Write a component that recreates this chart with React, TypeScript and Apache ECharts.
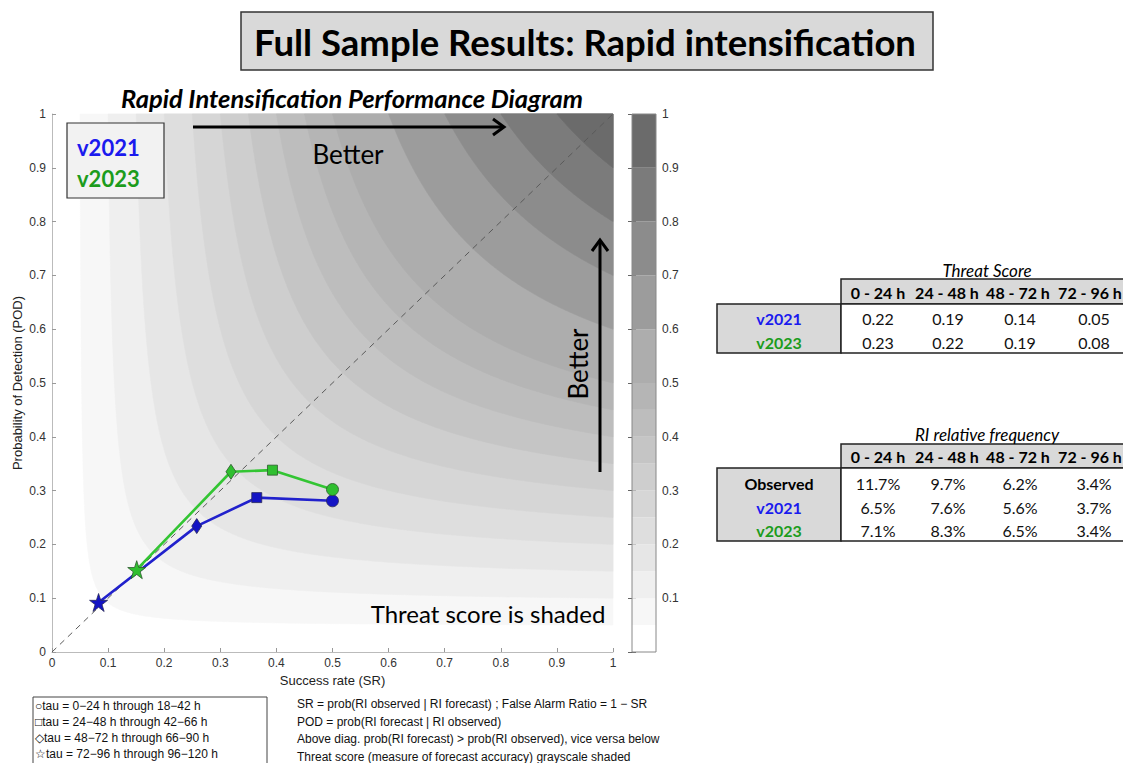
import React, { useEffect, useRef } from "react";
import * as echarts from "echarts";

// Threat-score shading levels (lower bound of each band)
const shadeLevels = [0, 0.05, 0.1, 0.15, 0.2, 0.25, 0.3, 0.35, 0.4, 0.45, 0.5, 0.6, 0.7, 0.8, 0.9];

// Performance points: success rate (SR) and probability of detection (POD)
// order: 0-24 h, 24-48 h, 48-72 h, 72-96 h lead windows
const srV2021 = [0.5, 0.365, 0.258, 0.083];
const podV2021 = [0.281, 0.287, 0.234, 0.092];
const srV2023 = [0.5, 0.393, 0.319, 0.151];
const podV2023 = [0.302, 0.338, 0.335, 0.153];

// Axis ticks
const axisTicks = [0, 0.1, 0.2, 0.3, 0.4, 0.5, 0.6, 0.7, 0.8, 0.9, 1];

// Tables
const leadCols = ["0 - 24 h", "24 - 48 h", "48 - 72 h", "72 - 96 h"];
const tsV2021 = [0.22, 0.19, 0.14, 0.05];
const tsV2023 = [0.23, 0.22, 0.19, 0.08];
const freqObserved = [11.7, 9.7, 6.2, 3.4];
const freqV2021 = [6.5, 7.6, 5.6, 3.7];
const freqV2023 = [7.1, 8.3, 6.5, 3.4];

const tauLegend = [
  "\u25CBtau = 0\u221224 h through 18\u221242 h",
  "\u25A1tau = 24\u221248 h through 42\u221266 h",
  "\u25C7tau = 48\u221272 h through 66\u221290 h",
  "\u2606tau = 72\u221296 h through 96\u2212120 h",
];
const notes = [
  "SR = prob(RI observed | RI forecast) ; False Alarm Ratio = 1 \u2212 SR",
  "POD = prob(RI forecast | RI observed)",
  "Above diag. prob(RI forecast) > prob(RI observed), vice versa below",
  "Threat score (measure of forecast accuracy) grayscale shaded",
];

const BLUE = "#1a1aee";
const GREEN = "#1c9c1c";
const CAL = "Lato, 'Open Sans', sans-serif";
const ARIAL = "'Liberation Sans', Arial, sans-serif";

const shade = (lo: number) => {
  const g = Math.round(255 - 165 * lo);
  return `rgb(${g},${g},${g})`;
};

// Curve of constant threat score c: 1/SR + 1/POD - 1 = 1/c, from (c,1) to (1,c)
function thresholdCurve(c: number): number[][] {
  const s = (2 * c) / (1 + c);
  const n = 160;
  const half: number[][] = [];
  for (let i = 0; i <= n; i++) {
    const w = 1 + ((1 / s - 1) * i) / n;
    half.push([1 / (1 / c + 1 - w), 1 / w]);
  }
  const mirrored = half.slice(0, -1).reverse().map(([a, b]) => [b, a]);
  return half.concat(mirrored);
}

const starPath =
  "path://M50,0 L61.8,35.1 L98.9,35.1 L68.9,57 L80.3,92.4 L50,70.6 L19.7,92.4 L31.1,57 L1.1,35.1 L38.2,35.1 Z";
const markerSymbols = ["circle", "rect", "diamond", starPath];
const markerSizes: any[] = [12, 10, [10, 15], 18];

function pointData(sr: number[], pod: number[]) {
  return sr.map((x, i) => ({
    value: [x, pod[i]],
    symbol: markerSymbols[i],
    symbolSize: markerSizes[i],
  }));
}

function txt(x: number, y: number, text: string, font: string, fill = "#000", align = "center", extra: any = {}) {
  return {
    type: "text",
    x,
    y,
    z: 100,
    silent: true,
    style: { text, font, fill, align, verticalAlign: "middle", textAlign: align, textVerticalAlign: "middle" },
    ...extra,
  };
}

function rect(x: number, y: number, w: number, h: number, fill: string, stroke: string, lineWidth = 1.5) {
  return { type: "rect", z: 90, silent: true, shape: { x, y, width: w, height: h }, style: { fill, stroke, lineWidth } };
}

function buildGraphics() {
  const g: any[] = [];
  // headline box
  g.push(rect(241, 12, 692, 58, "#d9d9d9", "#333", 1.5));
  g.push(txt(585, 42, "Full Sample Results: Rapid intensification", `bold 36.5px ${CAL}`));
  // chart title
  g.push(txt(352, 98, "Rapid Intensification Performance Diagram", `italic bold 25.5px ${CAL}`));
  // version key
  g.push(rect(67, 123, 97, 75, "#f2f2f2", "#333", 1.2));
  g.push(txt(77, 147, "v2021", `bold 22px ${CAL}`, BLUE, "left"));
  g.push(txt(77, 178, "v2023", `bold 22px ${CAL}`, GREEN, "left"));
  // "Better" arrows
  g.push({ type: "line", z: 95, silent: true, shape: { x1: 193, y1: 127, x2: 503, y2: 127 }, style: { stroke: "#000", lineWidth: 3 } });
  g.push({ type: "polyline", z: 95, silent: true, shape: { points: [[493, 119], [504, 127], [493, 135]] }, style: { stroke: "#000", lineWidth: 3, fill: null } });
  g.push(txt(348, 154, "Better", `26px ${CAL}`));
  g.push({ type: "line", z: 95, silent: true, shape: { x1: 600, y1: 472, x2: 600, y2: 241 }, style: { stroke: "#000", lineWidth: 3 } });
  g.push({ type: "polyline", z: 95, silent: true, shape: { points: [[592, 251], [600, 240], [608, 251]] }, style: { stroke: "#000", lineWidth: 3, fill: null } });
  g.push(txt(578, 364, "Better", `26px ${CAL}`, "#000", "center", { rotation: Math.PI / 2 }));
  g.push(txt(488, 613, "Threat score is shaded", `24px ${CAL}`));
  // colour bar frame
  g.push({ type: "rect", z: 60, silent: true, shape: { x: 632, y: 114, width: 24, height: 538 }, style: { fill: null, stroke: "#888", lineWidth: 1 } });

  // Threat score table
  const colX = [878, 948, 1020, 1094];
  const headX = [878, 947, 1018, 1090];
  g.push(txt(987, 270, "Threat Score", `italic 17px ${CAL}`));
  g.push(rect(841, 279, 300, 25, "#d9d9d9", "#222"));
  g.push(rect(717, 304, 124, 49, "#d9d9d9", "#222"));
  g.push(rect(841, 304, 300, 49, "#ffffff", "#222"));
  leadCols.forEach((c, i) => g.push(txt(headX[i], 292, c, `bold 16px ${CAL}`)));
  g.push(txt(779, 318, "v2021", `bold 16px ${CAL}`, BLUE));
  g.push(txt(779, 342, "v2023", `bold 16px ${CAL}`, GREEN));
  tsV2021.forEach((v, i) => g.push(txt(colX[i], 318, v.toFixed(2), `16px ${CAL}`, "#111")));
  tsV2023.forEach((v, i) => g.push(txt(colX[i], 342, v.toFixed(2), `16px ${CAL}`, "#111")));

  // RI relative frequency table
  g.push(txt(987, 434, "RI relative frequency", `italic 17px ${CAL}`));
  g.push(rect(841, 444, 300, 24, "#d9d9d9", "#222"));
  g.push(rect(717, 468, 124, 73, "#d9d9d9", "#222"));
  g.push(rect(841, 468, 300, 73, "#ffffff", "#222"));
  leadCols.forEach((c, i) => g.push(txt(headX[i], 456, c, `bold 16px ${CAL}`)));
  g.push(txt(779, 483, "Observed", `bold 16px ${CAL}`, "#000"));
  g.push(txt(779, 507, "v2021", `bold 16px ${CAL}`, BLUE));
  g.push(txt(779, 530, "v2023", `bold 16px ${CAL}`, GREEN));
  freqObserved.forEach((v, i) => g.push(txt(colX[i], 483, v.toFixed(1) + "%", `16px ${CAL}`, "#111")));
  freqV2021.forEach((v, i) => g.push(txt(colX[i], 507, v.toFixed(1) + "%", `16px ${CAL}`, "#111")));
  freqV2023.forEach((v, i) => g.push(txt(colX[i], 530, v.toFixed(1) + "%", `16px ${CAL}`, "#111")));

  // lead-time marker key and notes
  g.push(rect(33, 697, 234, 72, "#ffffff", "#444", 1));
  tauLegend.forEach((t, i) => g.push(txt(35, 706 + i * 16, t, `12px ${ARIAL}`, "#111", "left")));
  notes.forEach((t, i) => g.push(txt(297, 704 + i * 17.5, t, `12px ${ARIAL}`, "#111", "left")));
  return g;
}

export default function App() {
  const ref = useRef<HTMLDivElement>(null);
  useEffect(() => {
    if (!ref.current) return;
    const chart = echarts.init(ref.current, undefined, { renderer: "svg" });
    const bands = shadeLevels.map((lo, i) => [lo, i + 1 < shadeLevels.length ? shadeLevels[i + 1] : 1]);
    const option: any = {
      animation: false,
      backgroundColor: "#ffffff",
      grid: [
        { left: 52, top: 114, width: 561, height: 538 },
        { left: 632, top: 114, width: 24, height: 538 },
      ],
      xAxis: [
        {
          gridIndex: 0,
          type: "value",
          min: axisTicks[0],
          max: axisTicks[axisTicks.length - 1],
          interval: 0.1,
          name: "Success rate (SR)",
          nameLocation: "middle",
          nameGap: 19,
          nameTextStyle: { fontFamily: ARIAL, fontSize: 13, color: "#222" },
          axisLine: { lineStyle: { color: "#bbb" } },
          axisTick: { inside: true, length: 4, lineStyle: { color: "#999" } },
          axisLabel: { fontFamily: ARIAL, fontSize: 12, color: "#333", margin: 5 },
          splitLine: { show: false },
        },
        { gridIndex: 1, type: "value", min: 0, max: 1, show: false },
      ],
      yAxis: [
        {
          gridIndex: 0,
          type: "value",
          min: axisTicks[0],
          max: axisTicks[axisTicks.length - 1],
          interval: 0.1,
          name: "Probability of Detection (POD)",
          nameLocation: "middle",
          nameGap: 28,
          nameTextStyle: { fontFamily: ARIAL, fontSize: 13, color: "#222" },
          axisLine: { show: true, lineStyle: { color: "#bbb" } },
          axisTick: { show: true, inside: true, length: 4, lineStyle: { color: "#999" } },
          axisLabel: { fontFamily: ARIAL, fontSize: 12, color: "#333", margin: 6 },
          splitLine: { show: false },
        },
        {
          gridIndex: 1,
          type: "value",
          position: "right",
          min: 0,
          max: 1,
          interval: 0.1,
          axisLine: { show: false },
          axisTick: { show: true, inside: true, length: 4, lineStyle: { color: "#666" } },
          axisLabel: { fontFamily: ARIAL, fontSize: 12, color: "#333", margin: 6, formatter: (v: number) => (v === 0 ? "" : String(v)) },
          splitLine: { show: false },
        },
        {
          gridIndex: 1,
          type: "value",
          position: "left",
          min: 0,
          max: 1,
          interval: 0.1,
          axisLine: { show: false },
          axisTick: { show: true, inside: true, length: 4, lineStyle: { color: "#666" } },
          axisLabel: { show: false },
          splitLine: { show: false },
        },
      ],
      series: [
        {
          type: "custom",
          xAxisIndex: 0,
          yAxisIndex: 0,
          z: 1,
          silent: true,
          data: shadeLevels.filter((l) => l > 0).map((l) => [l, l]),
          renderItem: (_params: any, api: any) => {
            const c = api.value(0);
            const pts = thresholdCurve(c).map((p) => api.coord(p));
            pts.push(api.coord([1, 1]));
            return { type: "polygon", shape: { points: pts }, style: { fill: shade(c), stroke: shade(c), lineWidth: 0.5 } };
          },
        },
        {
          type: "custom",
          xAxisIndex: 1,
          yAxisIndex: 1,
          z: 1,
          silent: true,
          data: bands,
          renderItem: (_params: any, api: any) => {
            const lo = api.value(0);
            const hi = api.value(1);
            const p0 = api.coord([0, hi]);
            const p1 = api.coord([1, lo]);
            return {
              type: "rect",
              shape: { x: p0[0], y: p0[1], width: p1[0] - p0[0], height: p1[1] - p0[1] },
              style: { fill: shade(lo) },
            };
          },
        },
        {
          type: "line",
          xAxisIndex: 0,
          yAxisIndex: 0,
          z: 3,
          silent: true,
          symbol: "none",
          data: [
            [0, 0],
            [1, 1],
          ],
          lineStyle: { color: "#5a5a5a", width: 1, type: [6, 5] },
        },
        {
          name: "v2021",
          type: "line",
          xAxisIndex: 0,
          yAxisIndex: 0,
          z: 5,
          data: pointData(srV2021, podV2021),
          lineStyle: { color: "#2121cc", width: 2.6 },
          itemStyle: { color: "#1414c4", borderColor: "#2a2a5a", borderWidth: 0.8 },
          showAllSymbol: true,
        },
        {
          name: "v2023",
          type: "line",
          xAxisIndex: 0,
          yAxisIndex: 0,
          z: 6,
          data: pointData(srV2023, podV2023),
          lineStyle: { color: "#33c533", width: 2.6 },
          itemStyle: { color: "#2fbf2f", borderColor: "#2f5a2f", borderWidth: 0.8 },
          showAllSymbol: true,
        },
      ],
      graphic: { elements: buildGraphics() },
    };
    chart.setOption(option);
    return () => chart.dispose();
  }, []);
  return (
    <div
      ref={ref}
      style={{ position: "absolute", left: 0, top: 0, width: 1123, height: 763, background: "#fff" }}
    />
  );
}
